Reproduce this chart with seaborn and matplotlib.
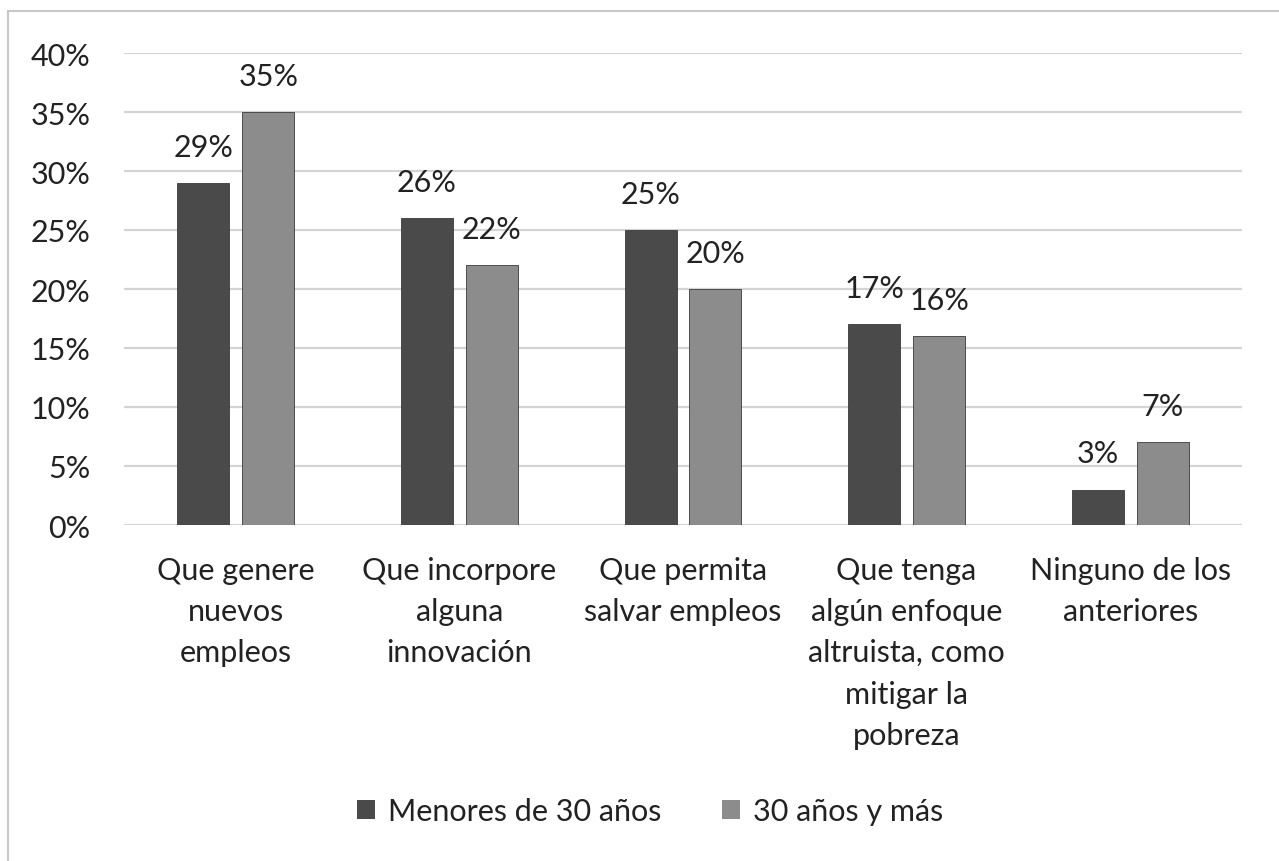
import matplotlib
matplotlib.use("Agg")
import matplotlib.pyplot as plt
import seaborn as sns
import pandas as pd
from matplotlib.patches import Rectangle

categories = ["Que genere\nnuevos\nempleos",
              "Que incorpore\nalguna\ninnovación",
              "Que permita\nsalvar empleos",
              "Que tenga\nalgún enfoque\naltruista, como\nmitigar la\npobreza",
              "Ninguno de los\nanteriores"]
series_names = ["Menores de 30 años", "30 años y más"]
menores = [0.29, 0.26, 0.25, 0.17, 0.03]
mayores = [0.35, 0.22, 0.20, 0.16, 0.07]
yticks = [0, 0.05, 0.10, 0.15, 0.20, 0.25, 0.30, 0.35, 0.40]

df = pd.DataFrame({
    "cat": categories * 2,
    "serie": [series_names[0]] * 5 + [series_names[1]] * 5,
    "val": menores + mayores,
})

sns.set_theme(style="white")
plt.rcParams["font.family"] = ["Lato", "DejaVu Sans"]
FS = 22
TXT = "#222222"

fig = plt.figure(figsize=(12.79, 8.62), dpi=100)
ax = fig.add_axes([124/1279, 1-526/862, (1242-124)/1279, (526-54)/862])

palette = {series_names[0]: "#4a4a4a", series_names[1]: "#8c8c8c"}
sns.barplot(data=df, x="cat", y="val", hue="serie", palette=palette,
            width=0.58, gap=0.2, ax=ax, saturation=1, edgecolor="#3a3a3a",
            linewidth=0.6)

ax.set_ylim(0, 0.40)
ax.set_yticks(yticks)
ax.set_yticklabels([f"{int(round(t*100))}%" for t in yticks], fontsize=FS, color=TXT)
ax.set_xlim(-0.5, 4.5)
ax.tick_params(axis="x", labelsize=FS, colors=TXT, pad=22, length=0)
ax.tick_params(axis="y", length=0, pad=24)
ax.set_xlabel("")
ax.set_ylabel("")
for lab in ax.get_xticklabels():
    lab.set_linespacing(1.58)
ax.grid(axis="y", color="#d4d4d4", linewidth=1.6)
ax.set_axisbelow(True)
for s in ax.spines.values():
    s.set_visible(False)

for cont in ax.containers:
    ax.bar_label(cont, labels=[f"{int(round(v*100))}%" for v in cont.datavalues],
                 padding=16, fontsize=FS, color=TXT)

leg = ax.legend(loc="center", bbox_to_anchor=(650/1279, 1-812/862), bbox_transform=fig.transFigure,
                ncol=2, frameon=False, fontsize=FS, handlelength=0.6, handleheight=0.6,
                handletextpad=0.4, columnspacing=2.0)
for h in leg.legend_handles:
    h.set_edgecolor("none")
for t in leg.get_texts():
    t.set_color(TXT)

fig.patches.append(Rectangle((8/1279, -0.1), 1.2, 1.1-12/862, transform=fig.transFigure,
                             fill=False, edgecolor="#c8c8c8", linewidth=1.5))

fig.savefig("out.png", dpi=100, facecolor="white")
